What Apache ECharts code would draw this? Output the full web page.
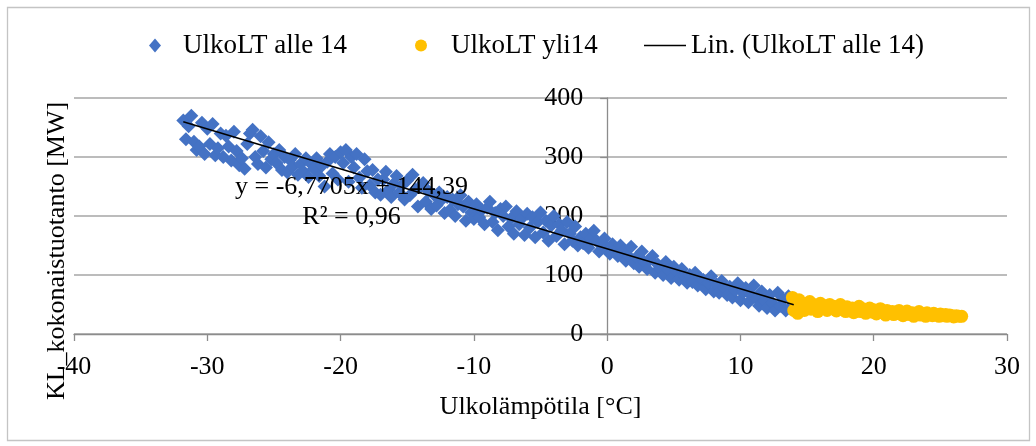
<!DOCTYPE html>
<html><head><meta charset="utf-8">
<script src="https://cdn.jsdelivr.net/npm/echarts@6/dist/echarts.min.js"></script>
<style>html,body{margin:0;padding:0;background:#fff}#c{width:1036px;height:446px}</style>
</head><body><div id="c"></div>
<script>
const seriesNames = ['UlkoLT alle 14', 'UlkoLT yli14', 'Lin. (UlkoLT alle 14)'];
const xAxisTitle = 'Ulkolämpötila [°C]';
const yAxisTitle = 'KL_kokonaistuotanto [MW]';
const trendText = ['y = -6,7705x + 144,39', 'R² = 0,96'];
const trendSlope = -6.7705;
const trendIntercept = 144.39;
const xRange = [-40, 30];
const yRange = [0, 400];

const blueData = [
[-31.8,362],[-31.6,330],[-31.4,352],[-31.2,370],[-31.0,326],
[-30.8,312],[-30.6,318],[-30.4,358],[-30.2,305],[-30.0,348],
[-29.8,322],[-29.6,356],[-29.4,303],[-29.2,315],[-29.0,340],
[-28.8,300],[-28.6,336],[-28.4,318],[-28.2,294],[-28.0,343],
[-27.8,310],[-27.6,286],[-27.4,298],[-27.2,280],[-27.0,322],
[-26.8,340],[-26.6,346],[-26.4,300],[-26.2,288],[-26.0,335],
[-25.8,310],[-25.6,282],[-25.4,325],[-25.2,296],[-25.0,305],
[-24.8,290],[-24.6,312],[-24.4,278],[-24.2,300],[-24.0,274],
[-23.8,295],[-23.6,284],[-23.4,305],[-23.2,270],[-23.0,288],
[-22.8,276],[-22.6,298],[-22.4,266],[-22.2,288],[-22.0,280],
[-21.8,298],[-21.6,268],[-21.4,285],[-21.2,250],[-21.0,292],
[-20.8,305],[-20.6,272],[-20.4,300],[-20.2,262],[-20.0,308],
[-19.8,290],[-19.6,312],[-19.4,258],[-19.2,300],[-19.0,282],
[-18.8,305],[-18.6,265],[-18.4,248],[-18.2,296],[-18.0,276],
[-17.8,252],[-17.6,278],[-17.4,240],[-17.2,262],[-17.0,236],
[-16.8,262],[-16.6,275],[-16.4,244],[-16.2,232],[-16.0,255],
[-15.8,268],[-15.6,240],[-15.4,252],[-15.2,228],[-15.0,260],
[-14.8,235],[-14.6,270],[-14.4,245],[-14.2,216],[-14.0,250],
[-13.8,256],[-13.6,224],[-13.4,242],[-13.2,212],[-13.0,236],
[-12.8,218],[-12.6,240],[-12.4,228],[-12.2,205],[-12.0,232],
[-11.8,210],[-11.6,228],[-11.4,200],[-11.2,220],[-11.0,235],
[-10.8,216],[-10.6,192],[-10.4,224],[-10.2,206],[-10.0,195],
[-9.8,220],[-9.6,198],[-9.4,210],[-9.2,186],[-9.0,214],
[-8.8,224],[-8.6,190],[-8.4,205],[-8.2,176],[-8.0,212],
[-7.8,200],[-7.6,216],[-7.4,182],[-7.2,196],[-7.0,170],
[-6.8,208],[-6.6,186],[-6.4,196],[-6.2,168],[-6.0,204],
[-5.8,180],[-5.6,198],[-5.4,164],[-5.2,190],[-5.0,206],
[-4.8,172],[-4.6,192],[-4.4,158],[-4.2,184],[-4.0,200],
[-3.8,166],[-3.6,186],[-3.4,176],[-3.2,152],[-3.0,190],
[-2.8,170],[-2.6,158],[-2.4,182],[-2.2,150],[-2.0,164],
[-1.8,154],[-1.6,170],[-1.4,146],[-1.2,162],[-1.0,175],
[-0.8,158],[-0.6,140],[-0.4,152],[-0.2,162],[0.0,146],
[0.2,136],[0.4,152],[0.6,144],[0.8,132],[1.0,150],
[1.2,140],[1.4,124],[1.6,132],[1.8,148],[2.0,120],
[2.2,130],[2.4,114],[2.6,140],[2.8,122],[3.0,110],
[3.2,126],[3.4,132],[3.6,104],[3.8,118],[4.0,110],
[4.2,100],[4.4,122],[4.6,108],[4.8,95],[5.0,114],
[5.2,106],[5.4,92],[5.6,110],[5.8,98],[6.0,87],
[6.2,100],[6.4,88],[6.6,104],[6.8,82],[7.0,94],
[7.2,92],[7.4,76],[7.6,86],[7.8,98],[8.0,72],
[8.2,84],[8.4,70],[8.6,90],[8.8,78],[9.0,66],
[9.2,80],[9.4,62],[9.6,74],[9.8,86],[10.0,57],
[10.2,70],[10.4,78],[10.6,54],[10.8,66],[11.0,82],
[11.2,60],[11.4,48],[11.6,72],[11.8,56],[12.0,44],
[12.2,66],[12.4,52],[12.6,40],[12.8,70],[13.0,48],
[13.2,58],[13.4,40],[13.6,64],[13.8,46],[14.0,52]
];

const yellowData = [
[13.9,62],[14.0,40],[14.1,55],[14.2,48],[14.3,35],[14.4,58],[14.5,45],[14.7,52],[14.8,40],
[15.0,48],[15.2,55],[15.3,42],[15.5,50],[15.7,45],[15.8,38],[16.0,52],[16.2,44],[16.4,48],
[16.5,40],[16.7,50],[16.9,43],[17.0,47],[17.2,39],[17.4,45],[17.5,50],[17.7,42],[17.9,38],
[18.0,46],[18.2,40],[18.4,44],[18.5,36],[18.7,42],[18.9,47],[19.0,38],[19.2,43],[19.4,35],
[19.5,40],[19.7,44],[19.9,37],[20.0,41],[20.2,34],[20.4,39],[20.5,43],[20.7,36],[20.9,32],
[21.0,40],[21.2,35],[21.4,38],[21.5,33],[21.7,37],[21.9,40],[22.0,34],[22.2,31],[22.4,36],
[22.5,39],[22.7,33],[22.9,36],[23.0,30],[23.2,35],[23.4,38],[23.5,32],[23.7,34],[23.9,30],
[24.0,36],[24.2,33],[24.4,31],[24.5,35],[24.7,32],[24.9,30],[25.0,34],[25.2,31],[25.4,33],
[25.5,30],[25.7,32],[25.9,31],[26.0,29],[26.2,31],[26.4,30],[26.6,30]
];

const xs = blueData.map(d => d[0]);
const xMinB = Math.min.apply(null, xs), xMaxB = Math.max.apply(null, xs);
const trendData = [[xMinB, trendSlope * xMinB + trendIntercept], [xMaxB, trendSlope * xMaxB + trendIntercept]];

const W = 1036, H = 446;
const GRID = {left: 74, right: 29, top: 98, bottom: 112};
const gridW = W - GRID.left - GRID.right;
// y axis crosses the x axis at x = 0
const yAxisOffset = -((0 - xRange[0]) / (xRange[1] - xRange[0])) * gridW;

const FONT = "'Liberation Serif', 'Times New Roman', serif";
const FS = 26;
const LFS = 27;
const AXC = '#8c8c8c';
const chart = echarts.init(document.getElementById('c'), null, {renderer: 'canvas'});
const legendBase = {
  top: 32, padding: 0, orient: 'horizontal', selectedMode: false,
  textStyle: {fontFamily: FONT, fontSize: LFS, color: '#000'}
};
chart.setOption({
  animation: false,
  backgroundColor: '#fff',
  textStyle: {fontFamily: FONT},
  grid: Object.assign({containLabel: false}, GRID),
  legend: [
    Object.assign({}, legendBase, {left: 149, itemWidth: 12, itemHeight: 14,
      data: [{name: seriesNames[0], icon: 'diamond'}],
      textStyle: Object.assign({}, legendBase.textStyle, {padding: [0, 0, 0, 17]})}),
    Object.assign({}, legendBase, {left: 415, itemWidth: 12, itemHeight: 12,
      data: [{name: seriesNames[1], icon: 'circle'}],
      textStyle: Object.assign({}, legendBase.textStyle, {padding: [0, 0, 0, 19]})}),
    Object.assign({}, legendBase, {left: 644, itemWidth: 42, itemHeight: 1.5,
      data: [{name: seriesNames[2], icon: 'rect'}]})
  ],
  xAxis: {
    type: 'value', min: xRange[0], max: xRange[1], interval: 10,
    name: xAxisTitle, nameLocation: 'middle', nameGap: 60,
    nameTextStyle: {fontFamily: FONT, fontSize: FS, color: '#000'},
    axisLine: {show: true, onZero: false, lineStyle: {color: AXC, width: 1.3}},
    axisTick: {show: true, length: 7, lineStyle: {color: AXC, width: 1.3}},
    axisLabel: {margin: 20, fontFamily: FONT, fontSize: FS, color: '#000'},
    splitLine: {show: false}
  },
  yAxis: {
    type: 'value', min: yRange[0], max: yRange[1], interval: 100,
    position: 'left', offset: yAxisOffset,
    axisLine: {show: true, onZero: false, lineStyle: {color: AXC, width: 1.3}},
    axisTick: {show: true, length: 7, lineStyle: {color: AXC, width: 1.3}},
    axisLabel: {margin: 24, fontFamily: FONT, fontSize: FS, color: '#000'},
    splitLine: {show: true, lineStyle: {color: '#a6a6a6', width: 1.5}}
  },
  series: [{
    name: seriesNames[0], type: 'scatter', data: blueData,
    symbol: 'diamond', symbolSize: 14,
    itemStyle: {color: '#4472C4', opacity: 1}, z: 2
  }, {
    name: seriesNames[1], type: 'scatter', data: yellowData,
    symbol: 'circle', symbolSize: 13,
    itemStyle: {color: '#FFC000', opacity: 1}, z: 2
  }, {
    name: seriesNames[2], type: 'line', data: trendData,
    showSymbol: false, symbol: 'none', silent: true,
    lineStyle: {color: '#000', width: 1.5}, itemStyle: {color: '#000'}, z: 3
  }],
  graphic: [{
    type: 'rect', silent: true, z: -1,
    shape: {x: 7.5, y: 7.5, width: 1022, height: 433},
    style: {fill: 'none', stroke: '#c4c4c4', lineWidth: 1.3}
  }, {
    type: 'text', left: 235, top: 172, z: 10, silent: true,
    style: {text: trendText.join('\n'), fontFamily: FONT, fontSize: FS, fill: '#000',
      textAlign: 'center', lineHeight: 30}
  }, {
    type: 'text', x: 57, y: 251, rotation: Math.PI / 2, z: 10, silent: true,
    style: {text: yAxisTitle, fontFamily: FONT, fontSize: FS, fill: '#000',
      align: 'center', verticalAlign: 'middle'}
  }]
});
</script>
</body></html>
